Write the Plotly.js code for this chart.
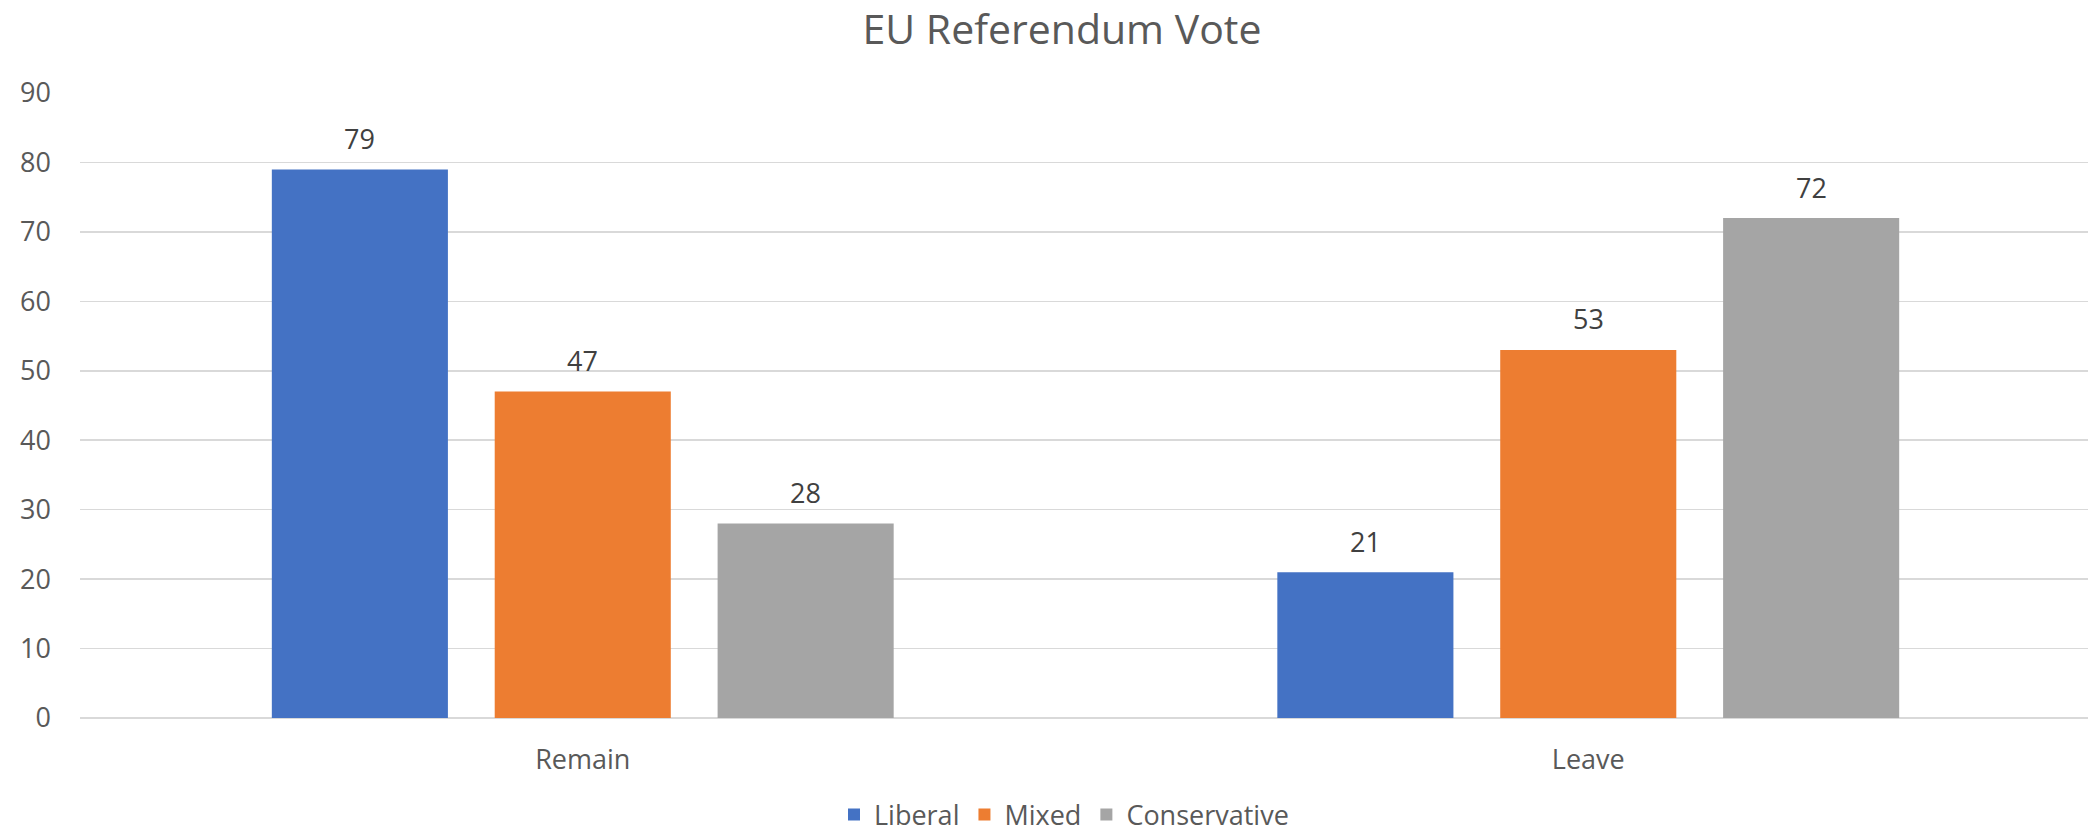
<!DOCTYPE html>
<html>
<head>
<meta charset="utf-8">
<script src="https://cdn.plot.ly/plotly-3.0.1.min.js"></script>
<style>
  html, body { margin: 0; padding: 0; background: #ffffff; }
  #chart { width: 2088px; height: 835px; }
</style>
</head>
<body>
<div id="chart"></div>
<script>
// ---- Data ----
const categories = ['Remain', 'Leave'];
const seriesNames = ['Liberal', 'Mixed', 'Conservative'];
const liberal = [79, 21];
const mixed = [47, 53];
const conservative = [28, 72];
const chartTitle = 'EU Referendum Vote';
const yTickValues = [0, 10, 20, 30, 40, 50, 60, 70, 80, 90];

// ---- Styling ----
const colors = ['#4472C4', '#ED7D31', '#A5A5A5'];
const FONT = 'Open Sans, Noto Sans, sans-serif';
const W = 2088, H = 835;
const margin = {l: 80, r: 0, t: 93, b: 117, pad: 0};
const bargap = 0.335;
const bargroupgap = 0.21;
const xRange = [-0.5, 1.497];

const seriesValues = [liberal, mixed, conservative];

const traces = seriesValues.map((vals, i) => ({
  type: 'bar',
  name: seriesNames[i],
  x: categories,
  y: vals,
  marker: {color: colors[i], line: {width: 0}},
  hoverinfo: 'skip'
}));

// data labels as annotations, tied to the data via the axes
const plotW = W - margin.l - margin.r;
const pxPerCat = plotW / (xRange[1] - xRange[0]);
const slotPx = pxPerCat * (1 - bargap) / seriesValues.length;
const annotations = [];
seriesValues.forEach((vals, i) => {
  vals.forEach((v, j) => {
    annotations.push({
      x: categories[j], y: v, xref: 'x', yref: 'y',
      text: String(v), showarrow: false,
      xshift: (i - (seriesValues.length - 1) / 2) * slotPx,
      yshift: 31,
      font: {family: FONT, size: 27, color: '#404040'}
    });
  });
});

const layout = {
  width: W, height: H,
  margin: margin,
  paper_bgcolor: '#ffffff',
  plot_bgcolor: '#ffffff',
  barmode: 'group',
  bargap: bargap,
  bargroupgap: bargroupgap,
  title: {
    text: chartTitle,
    x: 1062 / W, xref: 'container', xanchor: 'center',
    y: 1 - 29.5 / H, yref: 'container', yanchor: 'middle',
    font: {family: FONT, size: 41, color: '#595959'}
  },
  xaxis: {
    type: 'category',
    range: xRange,
    automargin: false,
    showgrid: false, showline: false, zeroline: false,
    ticks: '',
    ticklabelstandoff: 23,
    tickfont: {family: FONT, size: 27, color: '#595959'}
  },
  yaxis: {
    range: [0, 90],
    automargin: false,
    tickvals: yTickValues,
    showgrid: true, gridcolor: '#D9D9D9', gridwidth: 1.5,
    zeroline: true, zerolinecolor: '#D9D9D9', zerolinewidth: 2,
    showline: false, ticks: '',
    ticklabelstandoff: 28,
    tickfont: {family: FONT, size: 27, color: '#595959'}
  },
  showlegend: true,
  legend: {
    orientation: 'h',
    xref: 'container', yref: 'container',
    x: 1064 / W, xanchor: 'center',
    y: 1 - 815 / H, yanchor: 'middle',
    font: {family: FONT, size: 27, color: '#595959'},
    bgcolor: 'rgba(0,0,0,0)',
    itemclick: false, itemdoubleclick: false
  },
  annotations: annotations
};

Plotly.newPlot('chart', traces, layout, {displayModeBar: false, staticPlot: true});
</script>
</body>
</html>
